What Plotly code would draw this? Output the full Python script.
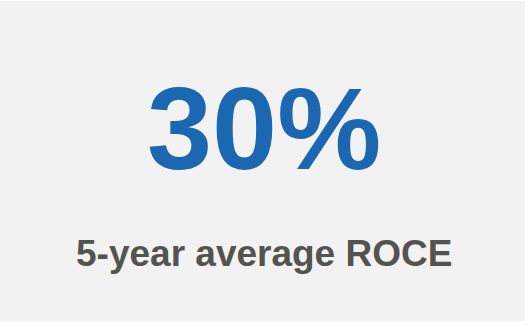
import plotly.graph_objects as go

kpi_values = [30]
kpi_units = ["%"]
kpi_labels = ["5-year average ROCE"]

W, H = 528, 325
fig = go.Figure()

fig.add_shape(type="rect", xref="paper", yref="paper",
              x0=0, x1=525 / W, y0=1 - 321 / H, y1=1 - 1 / H,
              fillcolor="#f2f2f2", line=dict(width=0), layer="below")

fig.add_annotation(text=f"<b>{kpi_values[0]}{kpi_units[0]}</b>", xref="paper", yref="paper",
                   x=0.5, y=0.606, xanchor="center", yanchor="middle", showarrow=False,
                   font=dict(family="Liberation Sans, Arial", size=117, color="#1b67b1"))
fig.add_annotation(text=f"<b>{kpi_labels[0]}</b>", xref="paper", yref="paper",
                   x=0.5, y=0.22, xanchor="center", yanchor="middle", showarrow=False,
                   font=dict(family="Liberation Sans, Arial", size=37, color="#53544f"))

fig.update_layout(width=W, height=H, margin=dict(l=0, r=0, t=0, b=0),
                  paper_bgcolor="white", plot_bgcolor="white",
                  xaxis=dict(visible=False), yaxis=dict(visible=False),
                  showlegend=False)
fig.write_html("out.html", config={"displayModeBar": False},
               post_script="document.body.style.margin='0';")
